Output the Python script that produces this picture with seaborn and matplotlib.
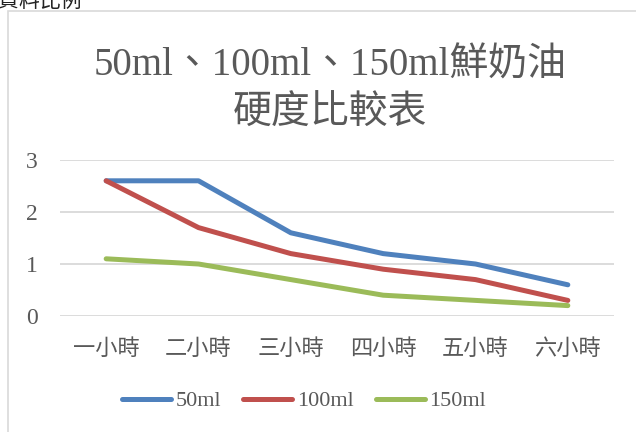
import matplotlib
matplotlib.use("Agg")
import matplotlib.pyplot as plt
import seaborn as sns
import pandas as pd
from matplotlib.patches import Rectangle

# Hardness readings of whipped cream over six hours
hours = ["一小時", "二小時", "三小時", "四小時", "五小時", "六小時"]
series_names = ["50ml", "100ml", "150ml"]
hardness_50 = [2.6, 2.6, 1.6, 1.2, 1.0, 0.6]
hardness_100 = [2.6, 1.7, 1.2, 0.9, 0.7, 0.3]
hardness_150 = [1.1, 1.0, 0.7, 0.4, 0.3, 0.2]
y_ticks = [0, 1, 2, 3]
title_lines = ["50ml、100ml、150ml鮮奶油", "硬度比較表"]
heading_text = "資料比例"

colors = ["#4F81BD", "#C0504D", "#9BBB59"]
text_gray = "#595959"
grid_gray = "#D9D9D9"

sns.set_theme(style="white")
fam = ["Liberation Serif", "Noto Sans CJK TC", "DejaVu Sans"]
plt.rcParams["font.family"] = fam

df = pd.DataFrame({
    "hour": hours * 3,
    "idx": list(range(len(hours))) * 3,
    "series": sum([[n] * len(hours) for n in series_names], []),
    "value": hardness_50 + hardness_100 + hardness_150,
})

W, H = 636, 432
fig = plt.figure(figsize=(W / 100, H / 100), dpi=100)
ax = fig.add_axes([60 / W, (H - 316) / H, (614 - 60) / W, (316 - 160) / H])

sns.lineplot(data=df, x="idx", y="value", hue="series", hue_order=series_names,
             palette=colors, linewidth=3.6, ax=ax, legend=True,
             solid_capstyle="round", solid_joinstyle="round")

ax.set_xlim(-0.5, len(hours) - 0.5)
ax.set_ylim(0, 3)
ax.set_xticks(range(len(hours)))
ax.set_xticklabels(hours)
ax.set_yticks(y_ticks)
ax.set_yticklabels([str(t) for t in y_ticks])
ax.set_xlabel("")
ax.set_ylabel("")
for s in ax.spines.values():
    s.set_visible(False)
ax.grid(axis="y", color=grid_gray, linewidth=1.3)
ax.grid(axis="x", visible=False)
ax.set_axisbelow(True)
ax.tick_params(axis="x", length=0, pad=17, labelsize=16, colors=text_gray)
ax.tick_params(axis="y", length=0, pad=16, labelsize=17, colors=text_gray)

handles, labels = ax.get_legend_handles_labels()
leg = ax.legend(handles, labels, loc="center", bbox_to_anchor=(304 / W, (H - 401) / H),
                bbox_transform=fig.transFigure, ncol=3, frameon=False,
                fontsize=16, handlelength=2.2, handletextpad=0.2, columnspacing=1.0,
                labelcolor=text_gray)
for ln in leg.get_lines():
    ln.set_linewidth(3.6)
    ln.set_solid_capstyle("round")

# two-line chart title
for line, yc in zip(title_lines, [66, 114]):
    fig.text(330 / W, (H - yc) / H, line, ha="center", va="center",
             fontsize=28, color=text_gray, family=fam)

# chart area border
fig.patches.append(Rectangle((7.5 / W, -0.05), 1.0, (H - 10.5) / H + 0.05,
                             transform=fig.transFigure, fill=False,
                             edgecolor=grid_gray, linewidth=1.2))

# heading line of the surrounding page, mostly cut off at the top
fig.text(-2 / W, (H - 7) / H, heading_text, ha="left", va="baseline",
         fontsize=15, color="#222222", family=fam)

fig.savefig("out.png", dpi=100, facecolor="white")
